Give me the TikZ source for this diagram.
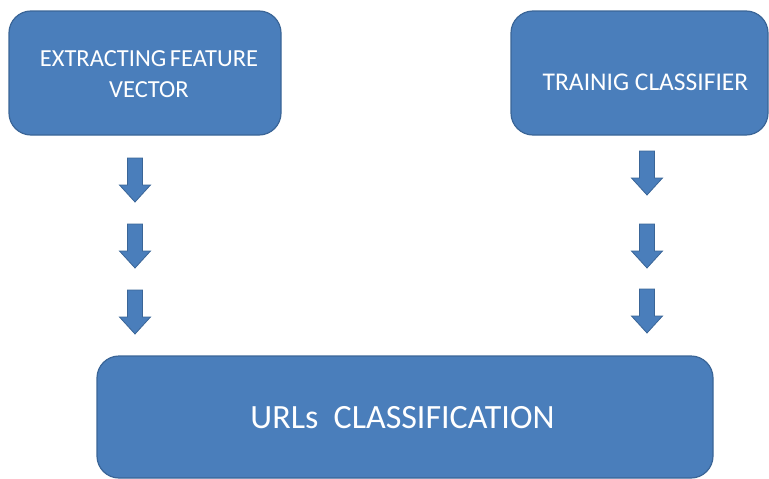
\documentclass[tikz,border=0pt]{standalone}
\usepackage{fontspec}
\setmainfont{Carlito}
\definecolor{boxfill}{HTML}{4A7EBB}
\definecolor{boxline}{HTML}{3A6597}
\begin{document}
\begin{tikzpicture}[x=1pt,y=-1pt,
  block/.style={draw=boxline, line width=1.2pt, fill=boxfill, rounded corners=22pt,
    inner sep=0pt},
  caption/.style={text=white, align=center, inner sep=0pt},
  downarrow/.pic={
    \path[draw=boxline, line width=0.8pt, fill=boxfill, line join=miter]
      (-7.5,0) -- (7.5,0) -- (7.5,27) -- (15.5,27) -- (0,44) -- (-15.5,27)
      -- (-7.5,27) -- cycle;
  }]
\useasboundingbox (0,0) rectangle (769,479);

% three process boxes
\node[block, minimum width=272pt, minimum height=124pt] (extract) at (145,73) {};
\node[block, minimum width=257pt, minimum height=124pt] (train) at (639.5,73) {};
\node[block, minimum width=616pt, minimum height=122pt] (classify) at (405,417) {};

% box captions
\node[caption, font=\fontsize{24.5}{31}\selectfont, anchor=base] (extracttext)
  at (149,97) {EXTRACTING\hspace{0.15em}FEATURE\\VECTOR};
\node[caption, font=\fontsize{25.5}{31}\selectfont, anchor=base] (traintext)
  at (645.5,90) {TRAINIG CLASSIFIER};
\node[caption, font=\fontsize{34}{40}\selectfont, anchor=base] (classifytext)
  at (402.5,428) {URLs\ \ CLASSIFICATION};

% block arrows leading down to the classification box
\pic at (135,158) {downarrow};
\pic at (135,224) {downarrow};
\pic at (135,290) {downarrow};
\pic at (647,151) {downarrow};
\pic at (647,224) {downarrow};
\pic at (647,289) {downarrow};
\end{tikzpicture}
\end{document}
